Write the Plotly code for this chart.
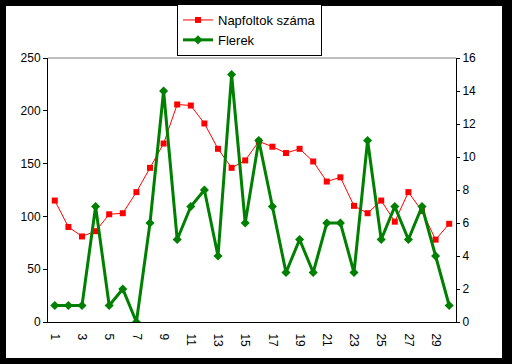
import plotly.graph_objects as go

days = list(range(1, 31))
napfoltok = [115, 90, 81, 86, 102, 103, 123, 146, 169, 206, 205, 188, 164, 146, 153,
             171, 166, 160, 164, 152, 133, 137, 110, 103, 115, 95, 123, 105, 78, 93]
flerek = [1, 1, 1, 7, 1, 2, 0, 6, 14, 5, 7, 8, 4, 15, 6,
          11, 7, 3, 5, 3, 6, 6, 3, 11, 5, 7, 5, 7, 4, 1]
x_tick_labels = [str(d) for d in days if d % 2 == 1]
x_tick_vals = [d for d in days if d % 2 == 1]
boundaries = [d - 0.5 for d in days] + [30.5]

FONT = "Liberation Sans, Arial, sans-serif"
W, H = 512, 364
L, R, T, B = 48, 56, 58, 42
pw, ph = W - L - R, H - T - B

def px_x(x):
    return (x - L) / pw

def px_y(y):
    return (H - B - y) / ph

fig = go.Figure()
fig.add_trace(go.Scatter(
    x=days, y=napfoltok, name="Napfoltok száma", mode="lines+markers",
    line=dict(color="#FF0000", width=1),
    marker=dict(symbol="square", size=6, color="#FF0000"),
    xaxis="x", yaxis="y"))
fig.add_trace(go.Scatter(
    x=days, y=flerek, name="Flerek", mode="lines+markers",
    line=dict(color="#008000", width=3),
    marker=dict(symbol="diamond", size=7, color="#008000"),
    xaxis="x", yaxis="y2"))

axis_common = dict(showgrid=False, zeroline=False, color="black",
                   tickfont=dict(family=FONT, size=12, color="black"))

fig.update_layout(
    width=W, height=H,
    margin=dict(l=L, r=R, t=T, b=B, pad=0, autoexpand=False),
    paper_bgcolor="black", plot_bgcolor="white",
    font=dict(family=FONT, size=12, color="black"),
    showlegend=True,
    legend=dict(x=px_x(177), y=px_y(4), xanchor="left", yanchor="top",
                bgcolor="white", bordercolor="black", borderwidth=1,
                font=dict(family=FONT, size=13, color="black"),
                itemwidth=30, tracegroupgap=0),
    xaxis=dict(range=[0.5, 30.5], tickmode="array", tickvals=x_tick_vals,
               ticktext=x_tick_labels, ticks="", tickangle=90,
               showline=True, linecolor="black", linewidth=1,
               ticklabelstandoff=8, anchor="y", **axis_common),
    xaxis3=dict(range=[0.5, 30.5], overlaying="x", anchor="y", tickmode="array",
                tickvals=boundaries, ticks="outside", ticklen=4, tickcolor="black",
                showticklabels=False, showline=False, showgrid=False, zeroline=False),
    xaxis4=dict(range=[0.5, 30.5], overlaying="x", anchor="y", tickmode="array",
                tickvals=boundaries, ticks="inside", ticklen=3, tickcolor="black",
                showticklabels=False, showline=False, showgrid=False, zeroline=False),
    yaxis=dict(range=[0, 250], dtick=50, tick0=0, ticks="outside", ticklen=4,
               tickcolor="black", showline=True, linecolor="black", linewidth=1,
               anchor="x", **axis_common),
    yaxis2=dict(range=[0, 16], dtick=2, tick0=0, ticks="outside", ticklen=3,
                tickcolor="black", showline=True, linecolor="black", linewidth=1,
                overlaying="y", side="right", anchor="x", **axis_common),
    yaxis3=dict(range=[0, 16], dtick=2, tick0=0, ticks="inside", ticklen=4,
                tickcolor="black", showticklabels=False, showline=False,
                showgrid=False, zeroline=False, overlaying="y", side="right", anchor="x"),
    shapes=[
        dict(type="rect", xref="paper", yref="paper", layer="below",
             x0=px_x(6), x1=px_x(502), y0=px_y(358), y1=px_y(6),
             fillcolor="white", line=dict(width=0)),
        dict(type="line", xref="paper", yref="paper",
             x0=0, x1=1, y0=1, y1=1, line=dict(color="#808080", width=1)),
    ],
)

fig.write_html("out.html", config={"displayModeBar": False},
               post_script="document.body.style.margin='0';document.body.style.background='black';")
